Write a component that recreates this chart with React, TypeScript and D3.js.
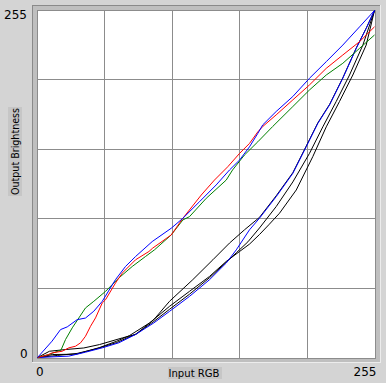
import React from "react";
import * as d3 from "d3";

type P = [number, number];

// Linear-ish channel curves (input, output)
const blueLinear: P[] = [
  [0, 0], [11, 12], [17.4, 20.5], [22.5, 22.5], [30, 27.8], [36.3, 29], [42.6, 34], [49, 41.3],
  [59, 57.2], [66.6, 66.9], [74.2, 74.2], [86.8, 85.2], [101.2, 95], [110, 102.3], [122.6, 114.5],
  [135.2, 126.8], [145.3, 137.8], [152.9, 145.1], [160.4, 154.8], [166.7, 164.7], [170.5, 171],
  [180.6, 180.8], [193.2, 191.8], [205.8, 205.2], [218.5, 217.4], [231, 229.6], [243.7, 243], [255, 255],
];
const redCurve: P[] = [
  [0, 0], [8, 2], [11.1, 3.4], [18.7, 4.6], [23.7, 7.1], [28.8, 8.3], [32.6, 10.8], [36.3, 15.6],
  [40.1, 22.9], [43.9, 29.1], [49, 40.1], [51.5, 42.5], [59, 54.7], [64.2, 62.1], [74.2, 71.8],
  [84.3, 77.9], [87.2, 80.4], [101.2, 90.1], [110, 102.3], [123.9, 119.4], [133.9, 130.4],
  [144, 140.2], [152.9, 150], [160.4, 157.3], [166.7, 165.8], [170.5, 169.8], [180.6, 178.3],
  [193.2, 189.3], [205.8, 200.3], [218.5, 212.5], [231, 222.3], [243.7, 232.1], [255, 243],
];
const greenCurve: P[] = [
  [0, 0], [3.8, 1], [8.6, 2.2], [17.8, 5.5], [21.2, 13.2], [26.3, 21.8], [31.3, 29.1], [36.3, 36.4],
  [42.6, 41.3], [51.5, 48.6], [61.5, 58.4], [71.7, 66.9], [81.7, 74.2], [88.5, 79.1], [101.2, 90.1],
  [110, 101.1], [115, 103.5], [127.7, 117], [142.8, 130.4], [147.6, 137.8], [156.6, 148.8],
  [166.7, 158.5], [178, 169.8], [193.2, 184.4], [205.8, 196.6], [218.5, 207.6], [231, 216.2],
  [243.7, 227.2], [255, 237],
];
// Gamma-like curves
const blueGamma: P[] = [
  [0, 0], [23.7, 1], [36.3, 3.9], [49, 7.1], [61.5, 10.8], [74.2, 16.9], [88, 25.4], [99.9, 33.9],
  [115, 44.9], [130.2, 57.2], [142.8, 69.4], [150.4, 79.1], [160.4, 93.8], [168, 102.4],
  [180.6, 118.2], [193.2, 135.3], [203.3, 154.8], [212.1, 172], [221, 185.6], [231, 205.2],
  [241.2, 227.2], [248.7, 241.8], [255, 255],
];
const black1: P[] = [
  [0, 0], [9.1, 4.6], [21.7, 5.9], [35, 7], [46.9, 9.5], [64.2, 14.4], [74.2, 16.9], [88, 27.8],
  [99.9, 41.3], [117.5, 57.2], [132.7, 71.8], [145.3, 84.1], [156.6, 93.8], [168, 103],
  [180.6, 118.8], [193.2, 135.8], [203.3, 155.3], [212.1, 172.4], [221, 186], [231, 205.5],
  [241.2, 227.5], [248.7, 242], [255, 255],
];
const black2: P[] = [
  [0, 0], [11.4, 2.2], [29.3, 2.4], [46.9, 7.3], [60, 12], [69.6, 16.1], [84.8, 25.4],
  [99.9, 37.6], [115, 48.6], [130.2, 59.6], [142.8, 70.6], [152.9, 77.9], [160.4, 83.3],
  [168, 90.4], [175, 97.5], [183.1, 106], [195.8, 123.1], [208.3, 147.6], [218.5, 169.5], [228.5, 188.1],
  [238.6, 207.6], [248.7, 229.6], [255, 255],
];
const black3: P[] = [
  [0, 0], [15, 1.5], [30, 3], [45, 6.5], [60, 11], [75, 17.5], [88, 26.5], [100, 35.5],
  [115, 46.5], [130, 58.5], [142.8, 70], [150.5, 77], [159.2, 85], [168, 95.2], [180.6, 110.9],
  [193.2, 129], [205.8, 150], [215.9, 169.5], [226, 188.1], [236.1, 207.6], [246.2, 229.6], [255, 255],
];

const gridTicks = [51, 102, 153, 204];
const axisMin = "0";
const axisMax = "255";
const xTitle = "Input RGB";
const yTitle = "Output Brightness";

const series: { data: P[]; color: string }[] = [
  { data: black2, color: "#000000" },
  { data: black3, color: "#000000" },
  { data: black1, color: "#000000" },
  { data: blueGamma, color: "#0000ff" },
  { data: greenCurve, color: "#008000" },
  { data: redCurve, color: "#ff0000" },
  { data: blueLinear, color: "#0000ff" },
];

export default function App() {
  const W = 386, H = 383;
  const left = 37, right = 375, top = 10, bottom = 358;
  const x = d3.scaleLinear().domain([0, 255]).range([left + 0.5, right - 0.5]);
  const y = d3.scaleLinear().domain([0, 255]).range([bottom - 0.5, top + 0.5]);
  const gx = d3.scaleLinear().domain([0, 255]).range([left, right]);
  const gy = d3.scaleLinear().domain([0, 255]).range([bottom, top]);
  const line = d3.line<P>().x((d) => x(d[0])).y((d) => y(d[1]));
  const font = "'DejaVu Sans', sans-serif";

  return (
    <svg width={W} height={H} style={{ position: "absolute", left: 0, top: 0 }}>
      <rect x={0} y={0} width={W} height={H} fill="#d4d4d4" />
      {/* sunken panel */}
      <rect x={32} y={5} width={349} height={358} fill="#bfbfbf" />
      <line x1={32} y1={5.5} x2={381} y2={5.5} stroke="#8a8a8a" />
      <line x1={32.5} y1={5} x2={32.5} y2={363} stroke="#8a8a8a" />
      <line x1={32} y1={362.5} x2={381} y2={362.5} stroke="#ececec" />
      <line x1={380.5} y1={5} x2={380.5} y2={363} stroke="#ececec" />
      {/* plot area */}
      <rect x={left + 0.5} y={top + 0.5} width={right - left} height={bottom - top} fill="#ffffff" stroke="#8c8c8c" />
      {gridTicks.map((t) => (
        <line key={"vx" + t} x1={Math.floor(gx(t)) + 0.5} x2={Math.floor(gx(t)) + 0.5} y1={top} y2={bottom} stroke="#8c8c8c" />
      ))}
      {gridTicks.map((t) => (
        <line key={"hy" + t} y1={Math.floor(gy(t)) + 0.5} y2={Math.floor(gy(t)) + 0.5} x1={left} x2={right} stroke="#8c8c8c" />
      ))}
      <g>
        {series.map((s, i) => (
          <path key={i} d={line(s.data) || ""} fill="none" stroke={s.color} strokeWidth={1} />
        ))}
      </g>
      {/* labels */}
      <text x={4} y={18.5} fontFamily={font} fontSize={12} fill="#000">{axisMax}</text>
      <text x={20} y={357.5} fontFamily={font} fontSize={12} fill="#000">{axisMin}</text>
      <text x={36} y={376} fontFamily={font} fontSize={12} fill="#000">{axisMin}</text>
      <text x={376.5} y={376} fontFamily={font} fontSize={12} fill="#000" textAnchor="end">{axisMax}</text>
      <rect x={168} y={367} width={54} height={12} fill="#c6c6c6" />
      <text x={168.5} y={376.5} fontFamily={font} fontSize={10} fill="#000" textLength={51} lengthAdjust="spacingAndGlyphs">{xTitle}</text>
      <rect x={8} y={107} width={14} height={89} fill="#c6c6c6" />
      <text transform="translate(18.5,195) rotate(-90)" x={0} y={0} fontFamily={font} fontSize={10} fill="#000" textLength={87} lengthAdjust="spacingAndGlyphs">{yTitle}</text>
    </svg>
  );
}
